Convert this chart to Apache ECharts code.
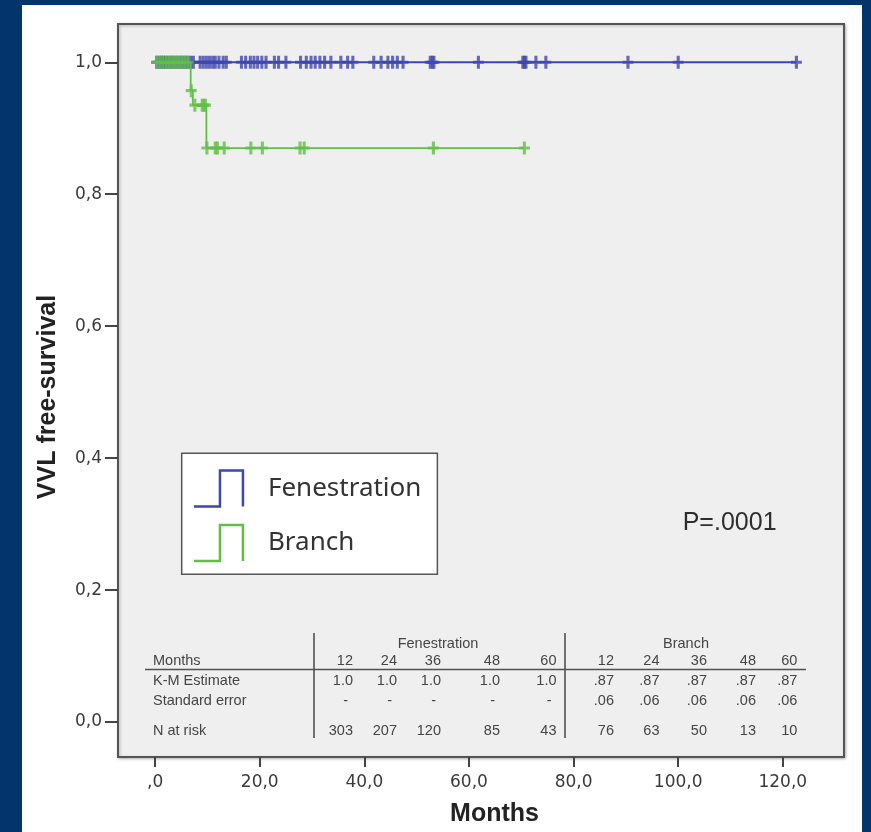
<!DOCTYPE html>
<html>
<head>
<meta charset="utf-8">
<script src="https://cdn.jsdelivr.net/npm/echarts@6/dist/echarts.min.js"></script>
<style>
html,body{margin:0;padding:0;width:871px;height:832px;overflow:hidden;background:#03346b;}
#chart{position:absolute;left:22px;top:5px;width:840px;height:827px;background:#fff;}
</style>
</head>
<body>
<div id="chart"></div>
<script>
// axis ticks
const xTicks = [0, 20, 40, 60, 80, 100, 120];
const yTicks = [0, 0.2, 0.4, 0.6, 0.8, 1.0];

// Kaplan-Meier steps [month, survival]
const fenSteps = [[0, 1], [122.6, 1]];
const brSteps = [[0, 1], [6.8, 0.957], [7.2, 0.935], [9.8, 0.87], [70.6, 0.87]];

// censored cases (months)
const fenCensor = [0.3, 0.8, 1.2, 1.6, 2.0, 2.5, 3.0, 3.4, 3.9, 4.4, 4.9, 5.3, 5.8, 6.3, 6.8, 7.3,
  8.6, 9.2, 9.8, 10.4, 11.0, 11.5, 12.2, 13.0, 13.6,
  16.5, 17.3, 18.2, 18.9, 19.6, 20.4, 21.2, 22.8, 23.6, 25.0,
  27.8, 28.9, 29.8, 30.6, 31.5, 32.4, 33.6, 35.5, 36.8, 37.8,
  41.8, 43.2, 44.5, 45.4, 46.3, 47.4, 52.6, 53.0, 53.3, 61.8,
  70.3, 70.6, 70.9, 72.8, 74.7, 90.4, 100.0, 122.6];
const brCensorTop = [0.3, 0.9, 1.5, 2.1, 2.7, 3.3, 3.9, 4.5, 5.1, 5.7, 6.3];
const brCensorMid = [[6.9, 0.957], [7.6, 0.935], [9.0, 0.935], [9.3, 0.935], [9.6, 0.935]];
const brCensorLow = [9.9, 11.5, 11.9, 13.2, 18.3, 20.5, 27.7, 28.5, 53.2, 70.6];

// table
const tabMonths = ['12', '24', '36', '48', '60'];
const fenKM = ['1.0', '1.0', '1.0', '1.0', '1.0'];
const fenSE = ['-', '-', '-', '-', '-'];
const fenN = ['303', '207', '120', '85', '43'];
const brKM = ['.87', '.87', '.87', '.87', '.87'];
const brSE = ['.06', '.06', '.06', '.06', '.06'];
const brN = ['76', '63', '50', '13', '10'];
const pText = 'P=.0001';

const BLUE = '#3f46ad', GREEN = '#62be48';
const OX = 22, OY = 5; // chart div offset in page
const fenColX = [353, 397, 441, 500, 556.5];
const brColX = [614, 659.5, 707, 756, 797.3];
const rowY = { head: 643.5, months: 661, km: 681, se: 700.5, n: 730.5 };
const tFont = '14.5px "Liberation Sans", Arial, sans-serif';
const tColor = '#454545';

const graphics = [];
function txt(s, x, y, align) {
  graphics.push({ type: 'text', z: 50, x: x - OX, y: y - OY,
    style: { text: s, font: tFont, fill: tColor, align: align || 'right', verticalAlign: 'middle' } });
}
function ln(x1, y1, x2, y2) {
  graphics.push({ type: 'line', z: 50, shape: { x1: x1 - OX, y1: y1 - OY, x2: x2 - OX, y2: y2 - OY },
    style: { stroke: '#505050', lineWidth: 1.6 } });
}
txt('Fenestration', 438, rowY.head, 'center');
txt('Branch', 686, rowY.head, 'center');
txt('Months', 153, rowY.months, 'left');
txt('K-M Estimate', 153, rowY.km, 'left');
txt('Standard error', 153, rowY.se, 'left');
txt('N at risk', 153, rowY.n, 'left');
tabMonths.forEach((m, i) => { txt(m, fenColX[i], rowY.months); txt(m, brColX[i], rowY.months); });
fenKM.forEach((v, i) => txt(v, fenColX[i], rowY.km));
fenSE.forEach((v, i) => txt(v, fenColX[i] - 5, rowY.se));
fenN.forEach((v, i) => txt(v, fenColX[i], rowY.n));
brKM.forEach((v, i) => txt(v, brColX[i], rowY.km));
brSE.forEach((v, i) => txt(v, brColX[i], rowY.se));
brN.forEach((v, i) => txt(v, brColX[i], rowY.n));
ln(145, 669.5, 806, 669.5);
ln(314, 633, 314, 738);
ln(565, 633, 565, 738);
graphics.push({ type: 'text', z: 50, x: 682.7 - OX, y: 523.3 - OY,
  style: { text: pText, font: '25px "Liberation Sans", Arial, sans-serif', fill: '#2e2e2e', verticalAlign: 'middle' } });

const CROSS = 'path://M3.6,0H6.4V3.8H10V6.2H6.4V10H3.6V6.2H0V3.8H3.6Z';
const fmtX = v => (v === 0 ? ',0' : v.toFixed(1).replace('.', ','));
const fmtY = v => v.toFixed(1).replace('.', ',');
const axisFont = { fontFamily: 'DejaVu Sans', fontSize: 17, color: '#3a3a3a' };

const chart = echarts.init(document.getElementById('chart'));
chart.setOption({
  animation: false,
  grid: { left: 96, top: 19, width: 726, height: 733, show: true, backgroundColor: '#efefef',
    borderColor: '#555', borderWidth: 2, shadowColor: 'rgba(0,0,0,0.25)', shadowBlur: 3, shadowOffsetX: 1, shadowOffsetY: 1 },
  xAxis: {
    type: 'value', min: -7.1, max: 131.7,
    splitLine: { show: false },
    axisLine: { show: true, onZero: false, lineStyle: { color: '#555', width: 2 } },
    axisTick: { show: true, length: 10, customValues: xTicks, lineStyle: { color: '#444', width: 2 } },
    axisLabel: Object.assign({ customValues: xTicks, formatter: fmtX, margin: 17 }, axisFont),
    name: 'Months', nameLocation: 'middle', nameGap: 45,
    nameTextStyle: { fontFamily: 'Liberation Sans', fontWeight: 'bold', fontSize: 25, color: '#222', padding: [0, 0, 0, 27] }
  },
  yAxis: {
    type: 'value', min: -0.053, max: 1.058,
    splitLine: { show: false },
    axisLine: { show: true, onZero: false, lineStyle: { color: '#555', width: 2 } },
    axisTick: { show: true, length: 13, customValues: yTicks, lineStyle: { color: '#444', width: 2 } },
    axisLabel: Object.assign({ customValues: yTicks, formatter: fmtY, margin: 16 }, axisFont),
    name: 'VVL free-survival', nameLocation: 'middle', nameGap: 57,
    nameTextStyle: { fontFamily: 'Liberation Sans', fontWeight: 'bold', fontSize: 25, color: '#222', padding: [0, 13, 0, 0] }
  },
  legend: {
    left: 181.7 - OX, top: 453.3 - OY, orient: 'vertical', selectedMode: false,
    backgroundColor: '#fff', borderColor: '#555', borderWidth: 1.5, padding: [16, 16, 12, 11],
    itemWidth: 49, itemHeight: 36, itemGap: 16,
    textStyle: { fontFamily: 'Noto Sans', fontSize: 26, color: '#333', padding: [0, 0, 0, 20] },
    data: [
      { name: 'Fenestration', icon: 'path://M0,36H26V0H49V36', itemStyle: { color: 'rgba(0,0,0,0)', borderColor: BLUE, borderWidth: 2.5 } },
      { name: 'Branch', icon: 'path://M0,36H26V0H49V36', itemStyle: { color: 'rgba(0,0,0,0)', borderColor: GREEN, borderWidth: 2.5 } }
    ]
  },
  graphic: { elements: graphics },
  series: [
    { name: 'Fenestration', type: 'line', step: 'end', data: fenSteps, showSymbol: false, color: BLUE,
      lineStyle: { width: 2, color: BLUE }, z: 3 },
    { name: 'Fenestration', type: 'scatter', data: fenCensor.map(t => [t, 1]), symbol: CROSS, symbolSize: [11, 13],
      itemStyle: { color: BLUE }, z: 4 },
    { name: 'Branch', type: 'line', step: 'end', data: brSteps, showSymbol: false, color: GREEN,
      lineStyle: { width: 1.8, color: GREEN }, z: 5 },
    { name: 'Branch', type: 'scatter',
      data: brCensorTop.map(t => [t, 1]).concat(brCensorMid, brCensorLow.map(t => [t, 0.87])),
      symbol: CROSS, symbolSize: [11, 13], itemStyle: { color: GREEN }, z: 6 }
  ]
});
</script>
</body>
</html>
